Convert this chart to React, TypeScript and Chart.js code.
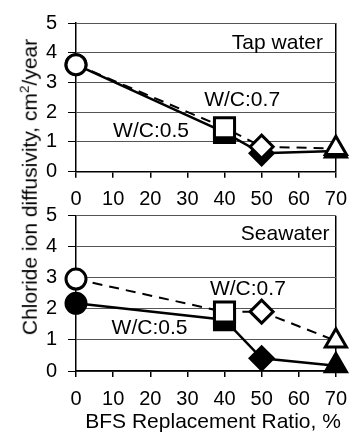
import React, { useEffect, useRef } from "react";
import { Chart, registerables } from "chart.js";

Chart.register(...registerables);

// ---- data ----
const replacementRatios = [0, 40, 50, 70];
const xTickValues = [0, 10, 20, 30, 40, 50, 60, 70];
const yTickValues = [0, 1, 2, 3, 4, 5];
const pointShapes = ["circle", "rect", "rectRot", "triangle"];

const tapWC05 = [3.6, 1.32, 0.62, 0.7];
const tapWC07 = [3.6, 1.48, 0.84, 0.78];
const seaWC05 = [2.18, 1.65, 0.41, 0.17];
const seaWC07 = [2.96, 1.9, 1.91, 0.97];

const seriesNames = ["W/C:0.7", "W/C:0.5"];
const panelTitles = ["Tap water", "Seawater"];
const xAxisTitle = "BFS Replacement Ratio, %";

// annotation placement (data coordinates)
const tapAnnotations = [
  { text: panelTitles[0], x: 66.5, y: 4.31, align: "right" },
  { text: seriesNames[0], x: 44.75, y: 2.42, align: "center" },
  { text: seriesNames[1], x: 20.2, y: 1.37, align: "center" },
];
const seaAnnotations = [
  { text: panelTitles[1], x: 68.3, y: 4.41, align: "right" },
  { text: seriesNames[0], x: 46.3, y: 2.63, align: "center" },
  { text: seriesNames[1], x: 19.8, y: 1.37, align: "center" },
];

const FONT = "'Liberation Sans', Arial, Helvetica, sans-serif";
const pointSizes = [10, 14.2, 11.5, 12.2];

function toPoints(values: number[]) {
  return replacementRatios.map((x, i) => ({ x, y: values[i] }));
}

function makeConfig(
  open: number[],
  filled: number[],
  annotations: any[],
  padTop: number,
  xAxisHeight: number,
  showXTitle: boolean
): any {
  const textPlugin = {
    id: "annotText",
    afterDraw(chart: any) {
      const ctx = chart.ctx;
      const xs = chart.scales.x;
      const ys = chart.scales.y;
      ctx.save();
      ctx.fillStyle = "#000";
      ctx.font = `21px ${FONT}`;
      ctx.textBaseline = "middle";
      annotations.forEach((a) => {
        ctx.textAlign = a.align;
        ctx.fillText(a.text, xs.getPixelForValue(a.x), ys.getPixelForValue(a.y));
      });
      if (showXTitle) {
        ctx.textAlign = "right";
        ctx.fillText(xAxisTitle, chart.chartArea.right + 5, chart.chartArea.bottom + 51);
      }
      ctx.restore();
    },
  };
  return {
    type: "line",
    data: {
      datasets: [
        {
          label: seriesNames[0],
          data: toPoints(open),
          borderColor: "#000",
          borderWidth: 2,
          borderDash: [10, 7],
          backgroundColor: "#fff",
          pointStyle: pointShapes,
          pointRadius: pointSizes,
          pointBackgroundColor: "#fff",
          pointBorderColor: "#000",
          pointBorderWidth: 3,
          tension: 0,
          fill: false,
          clip: false,
        },
        {
          label: seriesNames[1],
          data: toPoints(filled),
          borderColor: "#000",
          borderWidth: 2.5,
          backgroundColor: "#000",
          pointStyle: pointShapes,
          pointRadius: pointSizes,
          pointBackgroundColor: "#000",
          pointBorderColor: "#000",
          pointBorderWidth: 3,
          tension: 0,
          fill: false,
          clip: false,
        },
      ],
    },
    options: {
      responsive: false,
      animation: false,
      devicePixelRatio: 1,
      events: [],
      layout: { padding: { top: padTop, right: 14, left: 0, bottom: 0 } },
      plugins: { legend: { display: false }, tooltip: { enabled: false } },
      scales: {
        x: {
          type: "linear",
          min: 0,
          max: 70,
          afterBuildTicks(scale: any) {
            scale.ticks = xTickValues.map((v) => ({ value: v }));
          },
          afterFit(scale: any) {
            scale.height = xAxisHeight;
          },
          border: { display: true, color: "#000", width: 1.5 },
          grid: {
            drawOnChartArea: true,
            color: (c: any) => (c.tick && c.tick.value === 70 ? "#000" : "rgba(0,0,0,0)"),
            lineWidth: 1.5,
            tickLength: 6,
            tickColor: "#000",
            tickWidth: 1.5,
          },
          ticks: {
            color: "#000",
            font: { family: FONT, size: 20 },
            padding: 10,
            maxRotation: 0,
          },
        },
        y: {
          type: "linear",
          min: 0,
          max: 5,
          afterBuildTicks(scale: any) {
            scale.ticks = yTickValues.map((v) => ({ value: v }));
          },
          afterFit(scale: any) {
            scale.width = 76;
          },
          border: { display: true, color: "#000", width: 1.5 },
          grid: {
            color: "#555",
            lineWidth: 1,
            tickLength: 8,
            tickColor: "#000",
            tickWidth: 1,
          },
          ticks: {
            color: "#000",
            font: { family: FONT, size: 20 },
            padding: 11,
          },
        },
      },
    },
    plugins: [textPlugin],
  };
}

function Panel({ top, height, config }: { top: number; height: number; config: any }) {
  const ref = useRef<HTMLCanvasElement | null>(null);
  useEffect(() => {
    if (!ref.current) return;
    const chart = new Chart(ref.current, config);
    return () => chart.destroy();
  }, []);
  return (
    <canvas
      ref={ref}
      width={357}
      height={height}
      style={{ position: "absolute", left: 0, top, width: 357, height }}
    />
  );
}

export default function App() {
  const topCfg = makeConfig(tapWC07, tapWC05, tapAnnotations, 16.7, 38.3, false);
  const botCfg = makeConfig(seaWC07, seaWC05, seaAnnotations, 25.7, 65, true);
  return (
    <div
      style={{
        position: "absolute",
        left: 0,
        top: 0,
        width: 357,
        height: 436,
        background: "#fff",
        overflow: "hidden",
      }}
    >
      <Panel top={0} height={210} config={topCfg} />
      <Panel top={190} height={246} config={botCfg} />
      <div
        style={{
          position: "absolute",
          left: 27,
          top: 187,
          transform: "translate(-50%, -50%) rotate(-90deg)",
          whiteSpace: "nowrap",
          fontFamily: FONT,
          fontSize: 21,
          lineHeight: "24px",
          color: "#000",
        }}
      >
        Chloride ion diffusivity, cm
        <span style={{ fontSize: "0.65em", verticalAlign: "0.55em" }}>2</span>
        /year
      </div>
    </div>
  );
}
